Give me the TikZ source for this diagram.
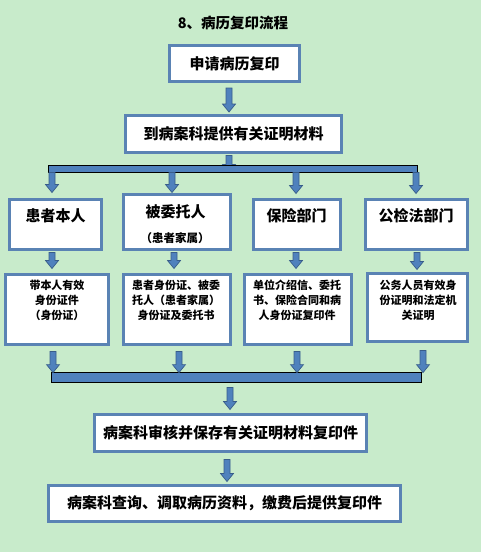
\documentclass[tikz,border=0pt]{standalone}
\usepackage{fontspec}
\setmainfont{Noto Sans CJK SC}
\usetikzlibrary{calc}
\definecolor{bgc}{HTML}{C8EBCB}
\definecolor{bdc}{HTML}{5A83B4}
\definecolor{afc}{HTML}{4F81BD}
\definecolor{aoc}{HTML}{385D8A}
\pgfdeclarelayer{back}
\pgfsetlayers{back,main}
\tikzset{
  box/.style={draw=bdc, line width=3pt, fill=white, inner sep=0pt},
  hbar/.style={draw=black, line width=0.8pt, fill=afc, inner sep=0pt},
  blockarr/.style={fill=afc, draw=aoc, line width=0.7pt},
  big/.style={font=\bfseries\fontsize{15}{15}\selectfont},
  lbl/.style={inner sep=0pt, big},
  sub/.style={inner sep=0pt, font=\bfseries\fontsize{11.5}{12}\selectfont},
  small/.style={inner sep=0pt, align=center, font=\bfseries\fontsize{11}{15}\selectfont},
  ttl/.style={inner sep=0pt, font=\bfseries\fontsize{14.5}{15}\selectfont},
}
% block arrow: x and start y from #1, tip y from #2
\newcommand\blockarrow[3][]{\draw[blockarr,#1] let \p1=(#2), \p2=(#3) in
  (\x1-3pt,\y1) -- (\x1-3pt,\y2+8pt) -- (\x1-6.5pt,\y2+8pt) -- (\x1,\y2)
  -- (\x1+6.5pt,\y2+8pt) -- (\x1+3pt,\y2+8pt) -- (\x1+3pt,\y1) -- cycle;}
\begin{document}
\begin{tikzpicture}[x=1pt,y=-1pt]
\begin{pgfonlayer}{back}
\fill[bgc] (0,0) rectangle (481,552);
\end{pgfonlayer}
\useasboundingbox (0,0) rectangle (481,552);

\node[ttl] (title) at (233,23) {8、病历复印流程};

\node[box, lbl, minimum width=130pt, minimum height=36pt] (b1) at (234.5,63.5) {申请病历复印};
\node[box, lbl, minimum width=216pt, minimum height=37pt] (b2) at (233.5,134) {到病案科提供有关证明材料};
\node[hbar, minimum width=369pt, minimum height=7pt] (bar1) at (232.5,168.5) {};

% row 1
\node[box, minimum width=92pt, minimum height=50pt] (r1a) at (55.5,224.5) {};
\node[box, minimum width=107pt, minimum height=55pt] (r1b) at (177,222) {};
\node[box, minimum width=87pt, minimum height=50pt] (r1c) at (297,224.5) {};
\node[box, minimum width=102pt, minimum height=50pt] (r1d) at (416.5,224.5) {};
\node[lbl] (t1a) at ($(r1a.north)+(0,17.5)$) {患者本人};
\node[lbl] (t1b) at ($(r1b.north)+(-1.5,18.5)$) {被委托人};
\node[sub] (t1b2) at ($(r1b.north)+(-2,45.5)$) {（患者家属）};
\node[lbl] (t1c) at ($(r1c.north)+(-0.5,17.5)$) {保险部门};
\node[lbl] (t1d) at ($(r1d.north)+(-0.5,17.5)$) {公检法部门};

% row 2
\node[box, minimum width=103pt, minimum height=70pt] (r2a) at (57,309.5) {};
\node[box, minimum width=107pt, minimum height=70pt] (r2b) at (177,309.5) {};
\node[box, minimum width=107pt, minimum height=70pt] (r2c) at (298,309.5) {};
\node[box, minimum width=100pt, minimum height=68pt] (r2d) at (417.5,307.5) {};
\node[small] (t2a) at ($(r2a.north)+(0,27.2)$) {带本人有效\\身份证件\\（身份证）};
\node[small] (t2b) at ($(r2b.north)+(-1,27.2)$) {患者身份证、被委\\托人（患者家属）\\身份证及委托书};
\node[small] (t2c) at ($(r2c.north)+(-1,27.2)$) {单位介绍信、委托\\书、保险合同和病\\人身份证复印件};
\node[small] (t2d) at ($(r2d.north)+(0.5,28.2)$) {公务人员有效身\\份证明和法定机\\关证明};

\node[hbar, minimum width=370pt, minimum height=10pt] (bar2) at (236,377) {};
\node[box, lbl, minimum width=272pt, minimum height=37pt] (b3) at (230.5,433) {病案科审核并保存有关证明材料复印件};
\node[box, lbl, minimum width=352pt, minimum height=36pt] (b4) at (224.5,503.5) {病案科查询、调取病历资料，缴费后提供复印件};

% arrows
\blockarrow{$(b1.south)+(-5.5,5)$}{$(b2.north)+(0,-2)$}
\begin{pgfonlayer}{back}
\blockarrow{$(b2.south)+(-4.5,1.5)$}{bar1.south}
\end{pgfonlayer}
\blockarrow{$(bar1.south -| r1a.north)+(-3.5,0)$}{$(r1a.north)+(0,-5.5)$}
\blockarrow{$(bar1.south -| r1b.north)+(-5,0)$}{$(r1b.north)+(0,-0.5)$}
\blockarrow{$(bar1.south -| r1c.north)+(-1,0)$}{$(r1c.north)+(0,-4.5)$}
\blockarrow{$(bar1.south -| r1d.north)+(-0.5,0)$}{$(r1d.north)+(0,-4.5)$}

\blockarrow{$(r1a.south)+(-3.5,1.5)$}{$(r2a.north)+(0,-4.5)$}
\blockarrow{$(r1b.south)+(-3,1.5)$}{$(r2b.north)+(0,-4.5)$}
\blockarrow{$(r1c.south)+(-1,1.5)$}{$(r2c.north)+(0,-4.5)$}
\blockarrow{$(r1d.south)+(0.5,1.5)$}{$(r2d.north)+(0,-2.5)$}

\blockarrow{$(r2a.south)+(-4,5.5)$}{$(bar2.north)+(0,1)$}
\blockarrow{$(r2b.south)+(2,5.5)$}{$(bar2.north)+(0,1)$}
\blockarrow{$(r2c.south)+(-1,5.5)$}{$(bar2.north)+(0,1)$}
\blockarrow{$(r2d.south)+(5.5,7.5)$}{$(bar2.north)+(0,1)$}

\blockarrow{$(bar2.south)+(-6,5)$}{$(b3.north)+(0,-3.5)$}
\blockarrow{$(b3.south)+(-3.5,6.5)$}{$(b4.north)+(0,-2.5)$}
\end{tikzpicture}
\end{document}
